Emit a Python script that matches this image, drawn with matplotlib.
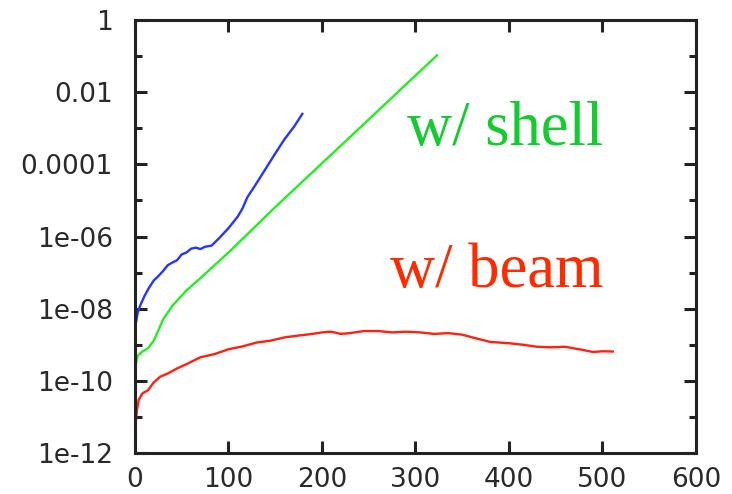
import matplotlib

matplotlib.use("Agg")
import matplotlib.pyplot as plt
from matplotlib.ticker import FixedLocator, FixedFormatter, NullFormatter

# growth curves, read per series (x, value)
blue_x = [0, 1, 3, 6, 10, 15, 20, 25, 30, 35, 40, 45, 50, 55, 60, 65, 70, 75,
          82, 90, 100, 110, 115, 120, 130, 141, 150, 160, 170, 179]
blue_y = [1.5e-9, 4e-9, 8e-9, 1.3e-8, 2.2e-8, 3.8e-8, 6e-8, 8e-8, 1.1e-7, 1.6e-7,
          1.9e-7, 2.2e-7, 3.2e-7, 3.6e-7, 4.6e-7, 4.9e-7, 4.5e-7, 5.2e-7, 5.6e-7,
          9e-7, 1.7e-6, 3.6e-6, 6e-6, 1.2e-5, 3e-5, 8.5e-5, 2e-4, 5e-4, 1.1e-3, 2.5e-3]

green_x = [0, 1, 3, 8, 14, 20, 25, 30, 40, 55, 70, 85, 100, 150, 200, 250, 300, 323]
green_y = [1.3e-10, 3e-10, 5e-10, 6.5e-10, 8e-10, 1.3e-9, 2.5e-9, 5e-9, 1.2e-8,
           3.2e-8, 7e-8, 1.6e-7, 3.6e-7, 6.5e-6, 1.07e-4, 1.75e-3, 0.029, 0.105]

red_x = [0, 1, 2, 4, 8, 14, 20, 27, 35, 45, 55, 70, 85, 100, 115, 130, 145, 160,
         175, 190, 200, 210, 220, 230, 245, 260, 275, 290, 305, 320, 335, 350,
         365, 380, 400, 415, 430, 445, 460, 475, 490, 500, 511]
red_y = [3e-12, 8e-12, 1.5e-11, 3e-11, 4.5e-11, 5.5e-11, 9e-11, 1.3e-10, 1.6e-10,
         2.2e-10, 2.9e-10, 4.5e-10, 5.5e-10, 7.5e-10, 9e-10, 1.15e-9, 1.3e-9, 1.6e-9,
         1.8e-9, 2.0e-9, 2.2e-9, 2.3e-9, 2.0e-9, 2.1e-9, 2.4e-9, 2.4e-9, 2.2e-9,
         2.3e-9, 2.2e-9, 2.0e-9, 2.1e-9, 1.9e-9, 1.5e-9, 1.2e-9, 1.1e-9, 1.0e-9,
         8.8e-10, 8.5e-10, 8.8e-10, 7.5e-10, 6.3e-10, 6.6e-10, 6.5e-10]

y_major = [1e-12, 1e-10, 1e-8, 1e-6, 1e-4, 1e-2, 1]
y_major_labels = ["1e-12", "1e-10", "1e-08", "1e-06", "0.0001", "0.01", "1"]
y_minor = [1e-11, 1e-9, 1e-7, 1e-5, 1e-3, 1e-1]
x_major = [0, 100, 200, 300, 400, 500, 600]

fig = plt.figure(figsize=(7.32, 4.94), dpi=100)
ax = fig.add_axes([0.1844, 0.083, 0.7664, 0.8765])

ax.plot(red_x, red_y, color="#ff2010", lw=1.7)
ax.plot(green_x, green_y, color="#22ee22", lw=1.7)
ax.plot(blue_x, blue_y, color="#2236ff", lw=1.7)

ax.set_yscale("log")
ax.set_xlim(0, 600)
ax.set_ylim(1e-12, 1)

ax.yaxis.set_major_locator(FixedLocator(y_major))
ax.yaxis.set_major_formatter(FixedFormatter(y_major_labels))
ax.yaxis.set_minor_locator(FixedLocator(y_minor))
ax.yaxis.set_minor_formatter(NullFormatter())
ax.xaxis.set_major_locator(FixedLocator(x_major))
ax.xaxis.set_minor_locator(FixedLocator([]))

for side in ax.spines.values():
    side.set_linewidth(2.2)
    side.set_color("#222222")

ax.tick_params(which="both", direction="in", top=True, right=True,
               width=2.2, color="#222222")
ax.tick_params(which="major", length=8.5, labelsize=19, labelcolor="#2a2a2a")
ax.tick_params(which="minor", length=5)
ax.tick_params(axis="y", pad=16)
ax.tick_params(axis="x", pad=10)

ax.text(291, 10 ** -3.46, "w/ shell", color="#14cc30", fontsize=45,
        family="Liberation Serif", va="baseline", ha="left")
ax.text(273, 10 ** -7.4, "w/ beam", color="#ff2a00", fontsize=45,
        family="Liberation Serif", va="baseline", ha="left")

fig.savefig("out.png", dpi=100)
